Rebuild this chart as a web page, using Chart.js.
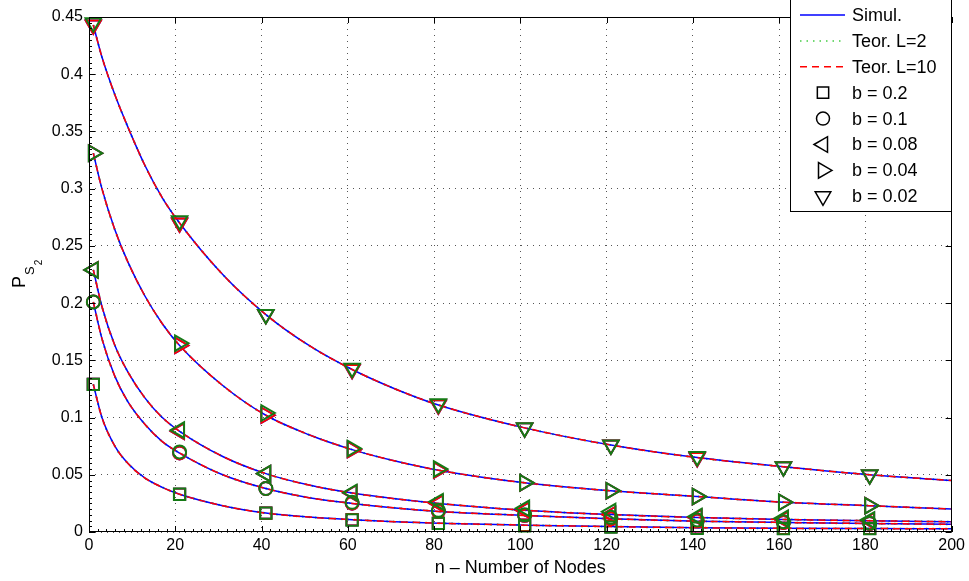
<!DOCTYPE html>
<html>
<head>
<meta charset="utf-8">
<script src="https://cdn.jsdelivr.net/npm/chart.js"></script>
<style>
  html, body { margin: 0; padding: 0; background: #fff; }
  canvas { display: block; }
</style>
</head>
<body>
<canvas id="chart" width="969" height="581"></canvas>
<script>
// n values where the curves were read
const nodes = [1, 3, 6, 9, 13, 17, 21, 31, 41, 51, 61, 71, 81, 101, 121, 141, 161, 181, 200];
// n values carrying a marker
const markerNodes = [1, 21, 41, 61, 81, 101, 121, 141, 161, 181];

// simulated curves (theory L=2 / L=10 lie on top of them)
const simB02  = [0.129, 0.100, 0.075, 0.060, 0.047, 0.039, 0.033, 0.023, 0.0165, 0.013, 0.0108, 0.009, 0.0077, 0.006, 0.0047, 0.0037, 0.0032, 0.003, 0.0028];
const simB01  = [0.201, 0.169, 0.136, 0.114, 0.094, 0.079, 0.069, 0.050, 0.038, 0.030, 0.025, 0.021, 0.018, 0.0145, 0.0115, 0.0095, 0.0083, 0.0074, 0.0067];
const simB008 = [0.229, 0.197, 0.163, 0.140, 0.117, 0.100, 0.088, 0.066, 0.051, 0.041, 0.034, 0.029, 0.025, 0.019, 0.0152, 0.0127, 0.011, 0.0098, 0.009];
const simB004 = [0.331, 0.300, 0.264, 0.236, 0.206, 0.182, 0.163, 0.128, 0.102, 0.085, 0.072, 0.062, 0.054, 0.043, 0.036, 0.031, 0.026, 0.023, 0.020];
const simB002 = [0.443, 0.415, 0.382, 0.354, 0.320, 0.292, 0.270, 0.225, 0.190, 0.163, 0.142, 0.125, 0.111, 0.091, 0.076, 0.065, 0.057, 0.050, 0.045];

// green markers (theory L=2), at markerNodes
const mkB02  = [0.129, 0.033, 0.0165, 0.0105, 0.0076, 0.0054, 0.0042, 0.0033, 0.003, 0.003];
const mkB01  = [0.201, 0.070, 0.038, 0.026, 0.019, 0.015, 0.0128, 0.0105, 0.009, 0.0077];
const mkB008 = [0.229, 0.089, 0.051, 0.0345, 0.0265, 0.0207, 0.0178, 0.0135, 0.012, 0.0105];
const mkB004 = [0.331, 0.165, 0.104, 0.073, 0.055, 0.043, 0.036, 0.031, 0.026, 0.023];
const mkB002 = [0.445, 0.272, 0.190, 0.143, 0.112, 0.091, 0.076, 0.066, 0.057, 0.050];

const xTicks = [0, 20, 40, 60, 80, 100, 120, 140, 160, 180, 200];
const yTicks = [0, 0.05, 0.1, 0.15, 0.2, 0.25, 0.3, 0.35, 0.4, 0.45];

const legendLabels = ['Simul.', 'Teor. L=2', 'Teor. L=10', 'b = 0.2', 'b = 0.1', 'b = 0.08', 'b = 0.04', 'b = 0.02'];

const FONT = '"Liberation Sans", Arial, Helvetica, sans-serif';
const BLUE = '#0000ff';
const RED = '#ff0000';
const DOT_GREEN = '#44cc44';
const MK_GREEN = '#157a15';

const groups = [
  { sim: simB02,  mk: mkB02,  style: 'rect',     rot: 0,   r: 8 },
  { sim: simB01,  mk: mkB01,  style: 'circle',   rot: 0,   r: 6.5 },
  { sim: simB008, mk: mkB008, style: 'triangle', rot: -90, r: 9 },
  { sim: simB004, mk: mkB004, style: 'triangle', rot: 90,  r: 9 },
  { sim: simB002, mk: mkB002, style: 'triangle', rot: 180, r: 9 },
];

const toXY = vals => vals.map((v, i) => ({ x: nodes[i], y: v }));
const markR = r => ctx => markerNodes.includes(ctx.raw && ctx.raw.x) ? r : 0;

const datasets = [];
groups.forEach(g => {
  datasets.push({
    data: toXY(g.sim), borderColor: DOT_GREEN, borderWidth: 2, borderDash: [1.5, 5], order: 5,
    pointRadius: 0, cubicInterpolationMode: 'monotone', clip: false
  });
  datasets.push({
    data: toXY(g.sim), borderColor: BLUE, borderWidth: 1.5, order: 4,
    pointStyle: g.style, rotation: g.rot, pointRadius: markR(g.r),
    pointBorderColor: BLUE, pointBackgroundColor: 'rgba(0,0,0,0)', pointBorderWidth: 1.8,
    cubicInterpolationMode: 'monotone', clip: false
  });
  datasets.push({
    data: toXY(g.sim), borderColor: RED, borderWidth: 1.5, borderDash: [7, 5], order: 3,
    pointStyle: g.style, rotation: g.rot, pointRadius: markR(g.r),
    pointBorderColor: RED, pointBackgroundColor: 'rgba(0,0,0,0)', pointBorderWidth: 1.8,
    cubicInterpolationMode: 'monotone', clip: false
  });
  datasets.push({
    type: 'scatter',
    data: g.mk.map((v, i) => ({ x: markerNodes[i], y: v })), order: 1,
    pointStyle: g.style, rotation: g.rot, pointRadius: g.r,
    pointBorderColor: MK_GREEN, pointBackgroundColor: 'rgba(0,0,0,0)', pointBorderWidth: 2,
    showLine: false, clip: false
  });
});

function drawMarker(ctx, style, rot, r, x, y) {
  if (Chart.helpers && Chart.helpers.drawPoint) {
    Chart.helpers.drawPoint(ctx, { pointStyle: style, rotation: rot, radius: r, borderWidth: 1.5 }, x, y);
  }
}

const framePlugin = {
  id: 'frame',
  afterDraw(chart) {
    const { ctx, chartArea: a, scales: { x, y } } = chart;
    ctx.save();
    ctx.strokeStyle = '#000';
    ctx.lineWidth = 1;
    ctx.beginPath();
    // x ticks (inward), minor every 2
    for (let v = 0; v <= 200; v += 2) {
      const px = Math.round(x.getPixelForValue(v)) + 0.5;
      const major = v % 20 === 0;
      ctx.moveTo(px, a.bottom); ctx.lineTo(px, a.bottom - (major ? 6 : 3));
      if (major) { ctx.moveTo(px, a.top); ctx.lineTo(px, a.top + 6); }
    }
    // y ticks (inward), minor every 0.005
    for (let i = 0; i <= 90; i++) {
      const py = Math.round(y.getPixelForValue(i * 0.005)) + 0.5;
      const major = i % 10 === 0;
      ctx.moveTo(a.left, py); ctx.lineTo(a.left + (major ? 6 : 3), py);
      if (major) { ctx.moveTo(a.right, py); ctx.lineTo(a.right - 6, py); }
    }
    ctx.stroke();
    ctx.strokeRect(Math.round(a.left) + 0.5, Math.round(a.top) + 0.5, Math.round(a.width) - 1, Math.round(a.height) - 1);

    // axis titles
    ctx.fillStyle = '#000';
    ctx.font = '18px ' + FONT;
    ctx.textAlign = 'center';
    ctx.textBaseline = 'alphabetic';
    ctx.fillText('n \u2013 Number of Nodes', (a.left + a.right) / 2, 573);

    ctx.save();
    ctx.translate(25, 288);
    ctx.rotate(-Math.PI / 2);
    ctx.textAlign = 'left';
    ctx.font = '18px ' + FONT;
    ctx.fillText('P', 0, 0);
    const pw = ctx.measureText('P').width;
    ctx.font = '13px ' + FONT;
    ctx.fillText('S', pw + 1, 9);
    const sw = ctx.measureText('S').width;
    ctx.font = '10px ' + FONT;
    ctx.fillText('2', pw + sw + 2, 17);
    ctx.restore();

    // legend box
    const lx = 790, rx = Math.round(a.right), by = 211;
    ctx.fillStyle = '#fff';
    ctx.fillRect(lx, -2, rx - lx, by + 2);
    ctx.strokeStyle = '#000';
    ctx.lineWidth = 1;
    ctx.strokeRect(lx + 0.5, -2, rx - lx - 1, by + 2.5);
    ctx.font = '18px ' + FONT;
    ctx.textAlign = 'left';
    ctx.textBaseline = 'middle';
    legendLabels.forEach((label, i) => {
      const cy = 15 + i * 25.9;
      ctx.fillStyle = '#000';
      ctx.fillText(label, 852, cy + 1);
      ctx.lineWidth = 1.5;
      if (i < 3) {
        ctx.strokeStyle = [BLUE, DOT_GREEN, RED][i];
        ctx.setLineDash([[], [1.5, 5], [7, 5]][i]);
        ctx.beginPath();
        ctx.moveTo(800, cy); ctx.lineTo(845, cy);
        ctx.stroke();
        ctx.setLineDash([]);
      } else {
        const g = groups[i - 3];
        ctx.strokeStyle = '#000';
        ctx.fillStyle = 'rgba(0,0,0,0)';
        drawMarker(ctx, g.style, g.rot, g.r, 823, cy);
      }
    });
    ctx.restore();
  }
};

new Chart(document.getElementById('chart'), {
  type: 'line',
  data: { datasets },
  options: {
    responsive: false,
    animation: false,
    events: [],
    layout: { padding: { top: 17, right: 16, left: 0, bottom: 0 } },
    plugins: { legend: { display: false }, tooltip: { enabled: false } },
    scales: {
      x: {
        type: 'linear', min: 0, max: 200,
        afterBuildTicks: s => { s.ticks = xTicks.map(v => ({ value: v })); },
        afterFit: s => { s.height = 49; },
        grid: { color: '#555', lineWidth: 1, drawTicks: false },
        border: { display: false, dash: [1, 5] },
        ticks: { padding: 4, color: '#000', font: { family: FONT, size: 16 }, maxRotation: 0, callback: v => String(v) }
      },
      y: {
        type: 'linear', min: 0, max: 0.45,
        afterBuildTicks: s => { s.ticks = yTicks.map(v => ({ value: v })); },
        afterFit: s => { s.width = 89; },
        grid: { color: '#555', lineWidth: 1, drawTicks: false },
        border: { display: false, dash: [1, 5] },
        ticks: { padding: 6, color: '#000', font: { family: FONT, size: 16 }, callback: v => String(Math.round(v * 100) / 100) }
      }
    }
  },
  plugins: [framePlugin]
});
</script>
</body>
</html>
